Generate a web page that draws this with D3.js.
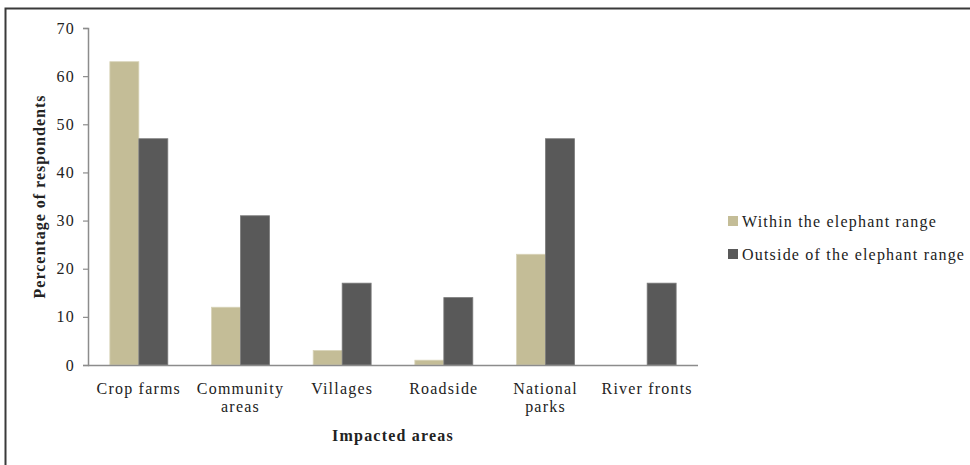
<!DOCTYPE html>
<html>
<head>
<meta charset="utf-8">
<script src="https://cdn.jsdelivr.net/npm/d3@7"></script>
<style>
  html, body { margin: 0; padding: 0; background: #fff; }
  svg { display: block; }
  text { font-family: "Liberation Serif", "Times New Roman", serif; fill: #222; font-size: 16px; letter-spacing: 1.2px; }
</style>
</head>
<body>
<svg id="chart" width="970" height="465"></svg>
<script>
// Impacted areas and share of respondents (%) for each group
const categories = [["Crop farms"], ["Community", "areas"], ["Villages"], ["Roadside"], ["National", "parks"], ["River fronts"]];
const withinRange = [63, 12, 3, 1, 23, 0];
const outsideRange = [47, 31, 17, 14, 47, 17];
const seriesNames = ["Within the elephant range", "Outside of the elephant range"];
const seriesColors = ["#C4BD97", "#595959"];
const yTicks = [0, 10, 20, 30, 40, 50, 60, 70];

const svg = d3.select("#chart");

// outer frame (top and left edges)
svg.append("path")
  .attr("d", "M5.5,465 V8.5 H970")
  .attr("fill", "none")
  .attr("stroke", "#3a3a3a")
  .attr("stroke-width", 2);

const plot = { left: 88, right: 698, top: 28, bottom: 365 };

const x = d3.scaleBand()
  .domain(d3.range(categories.length))
  .range([plot.left, plot.right])
  .paddingInner(0.43)
  .paddingOuter(0.215);

const x1 = d3.scaleBand()
  .domain([0, 1])
  .range([0, x.bandwidth()]);

const y = d3.scaleLinear().domain([0, 70]).range([plot.bottom, plot.top]);

// y axis
const yAxis = svg.append("g")
  .attr("transform", `translate(${plot.left},0)`)
  .call(d3.axisLeft(y).tickValues(yTicks).tickSize(5).tickPadding(8));
yAxis.attr("font-family", null).attr("font-size", null);
yAxis.select(".domain").attr("stroke", "#8c8c8c").attr("stroke-width", 1.5);
yAxis.selectAll(".tick line").attr("stroke", "#8c8c8c").attr("stroke-width", 1.2);
yAxis.selectAll(".tick text").attr("fill", "#222");

// bars
const series = [withinRange, outsideRange];
series.forEach((vals, s) => {
  svg.append("g").selectAll("rect")
    .data(vals)
    .join("rect")
    .attr("x", (d, i) => x(i) + x1(s))
    .attr("y", d => y(d))
    .attr("width", x1.bandwidth())
    .attr("height", d => y(0) - y(d))
    .attr("fill", seriesColors[s])
    .attr("stroke", d => d > 0 ? (s === 0 ? "#d8d3b8" : "#7a7a7a") : "none")
    .attr("stroke-width", 0.8);
});

// x axis line
svg.append("line")
  .attr("x1", plot.left).attr("x2", plot.right)
  .attr("y1", plot.bottom + 0.5).attr("y2", plot.bottom + 0.5)
  .attr("stroke", "#8c8c8c").attr("stroke-width", 1.5);

// category labels
const catG = svg.append("g");
categories.forEach((lines, i) => {
  const cx = x(i) + x.bandwidth() / 2;
  const t = catG.append("text")
    .attr("x", cx)
    .attr("y", 394)
    .attr("text-anchor", "middle");
  lines.forEach((ln, k) => {
    t.append("tspan")
      .attr("x", cx)
      .attr("dy", k === 0 ? 0 : 18)
      .text(ln);
  });
});

// axis titles
svg.append("text")
  .attr("x", (plot.left + plot.right) / 2)
  .attr("y", 441)
  .attr("text-anchor", "middle")
  .style("font-weight", "bold")
  .text("Impacted  areas");

svg.append("text")
  .attr("transform", `translate(45,${(plot.top + plot.bottom) / 2}) rotate(-90)`)
  .attr("text-anchor", "middle")
  .style("font-weight", "bold")
  .style("letter-spacing", "1px")
  .text("Percentage of respondents");

// legend
const legend = svg.append("g").attr("transform", "translate(728,216)");
seriesNames.forEach((name, i) => {
  const g = legend.append("g").attr("transform", `translate(0,${i * 33})`);
  g.append("rect").attr("x", 0).attr("y", 0).attr("width", 10).attr("height", 10)
    .attr("fill", seriesColors[i]);
  g.append("text").attr("x", 14).attr("y", 11)
    .text(name);
});
</script>
</body>
</html>
